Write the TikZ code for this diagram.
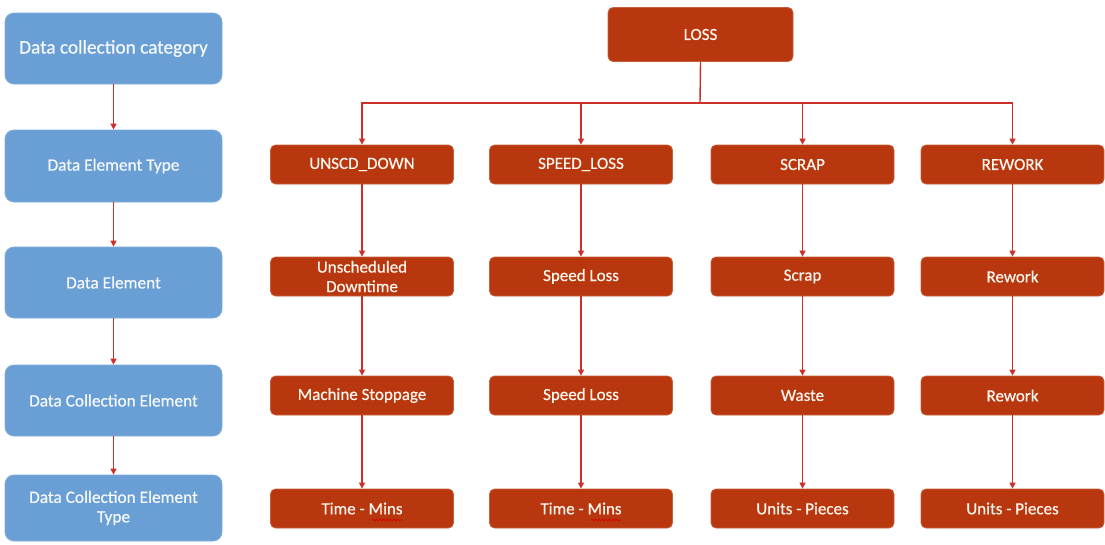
\documentclass[tikz,border=0pt]{standalone}
\usepackage{fontspec}
\setmainfont{Carlito}
\newfontfamily\labelfont[FakeBold=0.5]{Carlito}
\usetikzlibrary{arrows.meta,decorations.pathmorphing}
\definecolor{catblue}{HTML}{6A9FD5}
\definecolor{lossfill}{HTML}{B9370E}
\definecolor{linkred}{HTML}{CC2E2A}
\tikzset{
  catbox/.style={draw=catblue!85!white, line width=0.8pt, fill=catblue, rounded corners=9pt,
    minimum width=217pt, text=white!94!catblue, font=\labelfont\fontsize{17.3}{19.5}\selectfont, align=center, inner sep=0pt},
  lossbox/.style={draw=lossfill!80!white, line width=0.8pt, fill=lossfill, rounded corners=5pt,
    minimum width=183pt, minimum height=39pt, text=white!93!orange, font=\labelfont\fontsize{17}{19.5}\selectfont,
    align=center, inner sep=0pt},
  link/.style={draw=linkred, line width=1.4pt},
  flow/.style={link, -{Triangle[length=6pt,width=6pt]}},
  squiggle/.style={draw=red!85!black, line width=0.7pt,
    decorate, decoration={snake, amplitude=0.9pt, segment length=3.5pt}}
}
\begin{document}
\begin{tikzpicture}[x=1pt,y=-1pt]
\useasboundingbox (0,0) rectangle (1105,544);

% left column: the data collection hierarchy levels
\node[catbox, minimum height=71pt, font=\labelfont\fontsize{19.3}{21}\selectfont] (lv1) at (113.5,48.5) {Data collection category};
\node[catbox, minimum height=72pt] (lv2) at (113.5,166) {Data Element Type};
\node[catbox, minimum height=71pt] (lv3) at (113.5,282.5) {Data Element};
\node[catbox, minimum height=71pt] (lv4) at (113.5,400.5) {Data Collection Element};
\node[catbox, minimum height=66pt] (lv5) at (113.5,508) {Data Collection Element\\Type};
\foreach \a/\b in {lv1/lv2,lv2/lv3,lv3/lv4,lv4/lv5}
  \draw[flow] (\a.south) -- (\b.north);

% top of the loss tree
\node[lossbox, minimum width=185pt, minimum height=54pt] (loss) at (700.5,34.5) {LOSS};
\coordinate (bus) at (700,103);

% column 1
\node[lossbox] (a1) at (362,164.5) {UNSCD\_DOWN};
\node[lossbox] (a2) at (362,276.5) {Unscheduled\\Downtime};
\node[lossbox] (a3) at (362,395.5) {Machine Stoppage};
\node[lossbox] (a4) at (362,508.5) {Time - Mins};
% column 2
\node[lossbox] (b1) at (581,164.5) {SPEED\_LOSS};
\node[lossbox] (b2) at (581,276.5) {Speed Loss};
\node[lossbox] (b3) at (581,395.5) {Speed Loss};
\node[lossbox] (b4) at (581,508.5) {Time - Mins};
% column 3
\node[lossbox] (c1) at (802.5,164.5) {SCRAP};
\node[lossbox] (c2) at (802.5,276.5) {Scrap};
\node[lossbox] (c3) at (802.5,395.5) {Waste};
\node[lossbox] (c4) at (802.5,508.5) {Units - Pieces};
% column 4
\node[lossbox] (d1) at (1012.5,164.5) {REWORK};
\node[lossbox] (d2) at (1012.5,276.5) {Rework};
\node[lossbox] (d3) at (1012.5,395.5) {Rework};
\node[lossbox] (d4) at (1012.5,508.5) {Units - Pieces};

% spell-check marks under "Mins"
\draw[squiggle] (a4.center) ++(10,11.5) -- ++(30,0);
\draw[squiggle] (b4.center) ++(10,11.5) -- ++(30,0);

% branches from LOSS to the four categories
\draw[link] (loss.south) -- (bus);
\foreach \n in {a1,b1,c1,d1}
  \draw[flow] (bus) -| (\n.north);

% chains inside each column
\foreach \c in {a,b,c,d}{
  \draw[flow] (\c1.south) -- (\c2.north);
  \draw[flow] (\c2.south) -- (\c3.north);
  \draw[flow] (\c3.south) -- (\c4.north);
}
\end{tikzpicture}
\end{document}
